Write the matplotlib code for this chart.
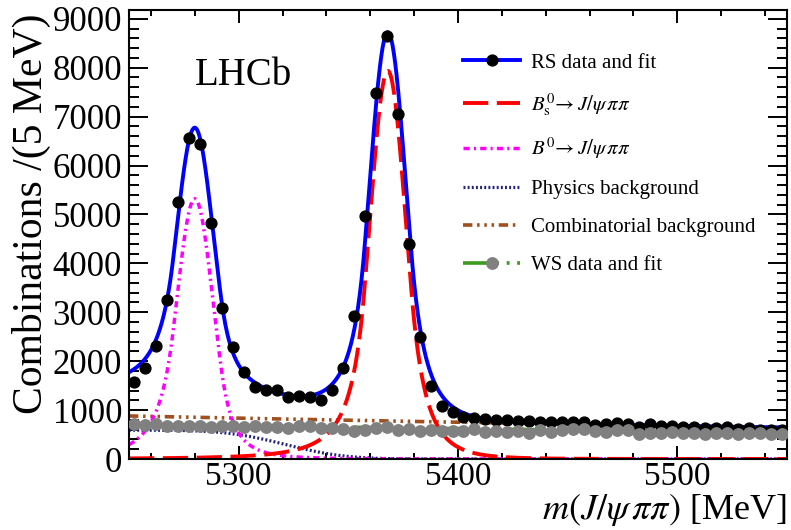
import math
import numpy as np
import matplotlib
matplotlib.use('Agg')
import matplotlib.pyplot as plt
from matplotlib.lines import Line2D
from matplotlib.ticker import MultipleLocator

plt.rcParams['font.family'] = ['Liberation Serif', 'DejaVu Serif']
plt.rcParams['mathtext.fontset'] = 'stix'

# binning: 5 MeV bins between 5250 and 5550
m_lo, m_hi, bin_w = 5250, 5550, 5
centres = np.arange(m_lo + bin_w / 2, m_hi, bin_w)

# right-sign candidates per bin
rs_counts = [1581, 1855, 2311, 3252, 5262, 6558, 6436, 4832, 3082, 2290,
             1773, 1472, 1411, 1411, 1262, 1288, 1274, 1207, 1411, 1855,
             2924, 4969, 7491, 8650, 7049, 4397, 2501, 1499, 1080, 955,
             865, 832, 818, 798, 798, 783, 783, 763, 763, 763,
             763, 763, 695, 709, 742, 716, 661, 709, 675, 675,
             661, 661, 640, 628, 661, 613, 628, 593, 593, 593]

# wrong-sign candidates per bin
ws_counts = [716, 695, 716, 675, 681, 681, 675, 648, 681, 681,
             661, 675, 661, 661, 628, 675, 681, 628, 628, 610,
             579, 593, 628, 648, 593, 607, 579, 593, 579, 579,
             579, 607, 558, 573, 558, 573, 538, 593, 552, 593,
             607, 607, 579, 558, 593, 593, 511, 538, 525, 558,
             525, 525, 511, 538, 538, 511, 538, 525, 511, 511]

# fit components, parameters estimated from the curves
# double sided Crystal Ball: mean, sigma, alphaL, nL, alphaR, nR, height
bs_par = (5368.0, 8.3, 1.3, 3.0, 1.3, 6.0, 7935)
b0_par = (5280.0, 8.3, 1.2, 4.0, 1.5, 4.0, 5320)
phys_par = (590, 5321.5, 30.0)   # height, edge, width
comb_par = (880, 0.00105)        # height at 5250, slope
ws_par = (710, 0.0009)


def dscb(m, mu, sig, aL, nL, aR, nR, h):
    t = (m - mu) / sig
    y = np.exp(-0.5 * t ** 2)
    lo = t < -aL
    y[lo] = np.exp(-0.5 * aL ** 2) * (1 + aL * (-t[lo] - aL) / nL) ** (-nL)
    hi = t > aR
    y[hi] = np.exp(-0.5 * aR ** 2) * (1 + aR * (t[hi] - aR) / nR) ** (-nR)
    return h * y


m = np.linspace(m_lo, m_hi, 1501)
bs = dscb(m, *bs_par)
b0 = dscb(m, *b0_par)
phys = phys_par[0] * 0.5 * np.array([math.erfc((x - phys_par[1]) / phys_par[2]) for x in m])
comb = comb_par[0] * np.exp(-comb_par[1] * (m - m_lo))
total = bs + b0 + phys + comb
ws_fit = ws_par[0] * np.exp(-ws_par[1] * (m - m_lo))

c_blue = '#0000ff'
c_red = '#ff0000'
c_mag = '#ff00ff'
c_navy = '#202080'
c_brown = '#a0501e'
c_green = '#3c9a1e'
c_grey = '#808080'

st_red = dict(color=c_red, lw=2.8, dashes=(6.5, 2.2))
st_mag = dict(color=c_mag, lw=2.5, dashes=(1.8, 1.2, 0.6, 1.2))
st_navy = dict(color=c_navy, lw=2.3, dashes=(0.6, 0.7))
st_brown = dict(color=c_brown, lw=2.6, dashes=(2.6, 1.3, 0.7, 1.3, 0.7, 1.3, 0.7, 1.3))
st_green = dict(color=c_green, lw=2.6, dashes=(10, 2.1, 0.8, 2.1, 0.8, 2.1, 0.8, 2.1))

fig = plt.figure(figsize=(7.91, 5.30), dpi=100)
ax = fig.add_axes([129 / 791, 1 - 459 / 530, (787 - 129) / 791, (459 - 10) / 530])

ax.plot(m, comb, **st_brown)
ax.plot(m, phys, **st_navy)
ax.plot(m, b0, **st_mag)
ax.plot(m, bs, **st_red)
ax.plot(m, total, color=c_blue, lw=2.8)
ax.plot(centres, rs_counts, 'o', color='black', ms=7.8, zorder=5)
ax.plot(m, ws_fit, **st_green, zorder=4)
ax.plot(centres, ws_counts, 'o', color=c_grey, ms=8.2, zorder=5)

ax.set_xlim(m_lo, m_hi)
ax.set_ylim(0, 9180)
ax.xaxis.set_major_locator(MultipleLocator(100))
ax.xaxis.set_minor_locator(MultipleLocator(20))
ax.yaxis.set_major_locator(MultipleLocator(1000))
ax.yaxis.set_minor_locator(MultipleLocator(200))
ax.tick_params(which='both', direction='in', top=True, right=True, width=1.4,
               labelsize=25)
ax.tick_params(axis='x', which='major', length=9.5, pad=2, labelsize=24)
ax.tick_params(axis='x', which='minor', length=4.5)
ax.tick_params(axis='y', which='major', length=14, pad=5)
ax.tick_params(axis='y', which='minor', length=7)
for s in ax.spines.values():
    s.set_linewidth(1.5)

ax.text(0.10, 0.834, 'LHCb', transform=ax.transAxes, fontsize=28, va='baseline')

fig.text(31 / 791, 1 - 13 / 530, 'Combinations /(5 MeV)', rotation=90,
         ha='center', va='top', fontsize=30)
fig.text(787 / 791, 1 - 519 / 530, r'$m(J/\psi\,\pi\pi)$ [MeV]',
         ha='right', va='baseline', fontsize=26)

handles = [
    Line2D([], [], color=c_blue, lw=2.8, marker='o', mfc='black', mec='black', ms=7.8),
    Line2D([], [], **st_red),
    Line2D([], [], **st_mag),
    Line2D([], [], **st_navy),
    Line2D([], [], **st_brown),
    Line2D([], [], marker='o', mfc=c_grey, mec=c_grey, ms=8.2, **st_green),
]
labels = ['RS data and fit',
          r'$B_{\mathrm{s}}^{0}\!\rightarrow J/\psi\,\pi\pi$',
          r'$B^{0}\!\rightarrow J/\psi\,\pi\pi$',
          'Physics background',
          'Combinatorial background',
          'WS data and fit']
ax.legend(handles, labels, loc='upper left', bbox_to_anchor=(463 / 791, 1 - 53 / 530),
          bbox_transform=fig.transFigure, frameon=False, fontsize=15,
          handlelength=2.75, handletextpad=0.5, labelspacing=0.88, borderpad=0,
          borderaxespad=0)

fig.savefig('out.png', dpi=100)
